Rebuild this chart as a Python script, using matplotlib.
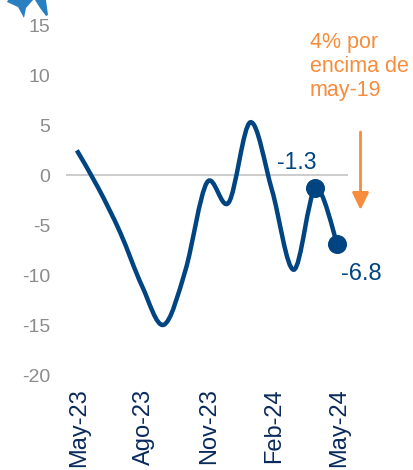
import matplotlib
matplotlib.use('Agg')
import matplotlib.pyplot as plt
import numpy as np
from matplotlib.path import Path
from matplotlib.patches import PathPatch, Polygon
from matplotlib.transforms import ScaledTranslation

plt.rcParams['font.family'] = ['Liberation Sans', 'DejaVu Sans']

months = ['May-23', 'Jun-23', 'Jul-23', 'Ago-23', 'Sep-23', 'Oct-23', 'Nov-23',
          'Dic-23', 'Ene-24', 'Feb-24', 'Mar-24', 'Abr-24', 'May-24']
values = [2.5, -1.3, -5.7, -11.0, -14.9, -9.5, -0.7, -2.7, 5.3, -1.5, -9.4, -1.3, -6.8]
y_ticks = [15, 10, 5, 0, -5, -10, -15, -20]

BLUE = '#004481'
GREY = '#8c8c8c'
ORANGE = '#f78c3c'

W, H = 414, 470
fig = plt.figure(figsize=(W / 100, H / 100), dpi=100)
ax = fig.add_axes([66 / W, 1 - 376 / H, 282 / W, 351 / H])
ax.set_xlim(-0.5, 12.5)
ax.set_ylim(-20, 15)
for s in ax.spines.values():
    s.set_visible(False)

ax.axhline(0, color='#cccccc', lw=1.4, zorder=1)

# smoothed line like the office chart one (catmull-rom to bezier)
x = np.arange(len(values), dtype=float)
y = np.array(values)
verts = [(x[0], y[0])]
codes = [Path.MOVETO]
for i in range(len(x) - 1):
    i0 = max(i - 1, 0)
    i3 = min(i + 2, len(x) - 1)
    verts.append((x[i] + (x[i + 1] - x[i0]) / 6, y[i] + (y[i + 1] - y[i0]) / 6))
    verts.append((x[i + 1] - (x[i3] - x[i]) / 6, y[i + 1] - (y[i3] - y[i]) / 6))
    verts.append((x[i + 1], y[i + 1]))
    codes += [Path.CURVE4] * 3
ax.add_patch(PathPatch(Path(verts, codes), fc='none', ec=BLUE, lw=3.2, capstyle='butt', zorder=3))
ax.plot(x[-2:], y[-2:], 'o', color=BLUE, ms=13.7, mew=0, zorder=4)

ax.set_yticks(y_ticks)
ax.set_yticklabels([str(v) for v in y_ticks])
ax.set_xticks(x[::3])
ax.set_xticklabels(months[::3], rotation=90, fontsize=17, color='#0a2a5c')
ax.tick_params(axis='y', length=0, labelsize=14, labelcolor=GREY, pad=11.5)
ax.tick_params(axis='x', length=0, pad=9)
# labels sit a little right of the tick position in the original
for lab in ax.get_xticklabels():
    lab.set_transform(lab.get_transform() + ScaledTranslation(2 / 100, 0, fig.dpi_scale_trans))

ax.text(9.25, y[-2] + 1.4, '-1.3', color=BLUE, fontsize=16.5, va='bottom', ha='left')
ax.text(12.2, y[-1] - 1.9, '-6.8', color=BLUE, fontsize=17, va='top', ha='left')

fig.text(310 / W, 1 - 32 / H, '4% por\nencima de\nmay-19', color=ORANGE, fontsize=15.5,
         va='top', ha='left', linespacing=1.2)
ax.annotate('', xy=(360.5 / W, 1 - 210 / H), xytext=(360.5 / W, 1 - 132 / H),
            xycoords='figure fraction', textcoords='figure fraction', annotation_clip=False,
            arrowprops=dict(arrowstyle='-|>,head_width=0.25,head_length=0.52', color=ORANGE,
                            lw=2.0, shrinkA=0, shrinkB=0, mutation_scale=20))

# plane icon cut off at the top
plane = [[(7, 2), (18, 7), (24, 18), (26, 8), (33, 0), (8, 0)],
         [(35, 0), (40, 8), (46, 16), (48, 15), (46, 0)]]
for p in plane:
    fig.add_artist(Polygon([(a / W, 1 - b / H) for a, b in p], closed=True, fc='#2a7fc1', ec='none',
                           transform=fig.transFigure))

fig.savefig('out.png', dpi=100)
